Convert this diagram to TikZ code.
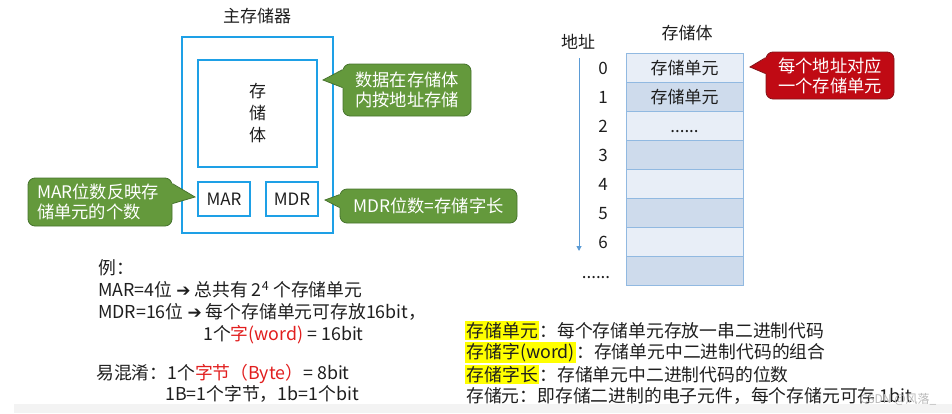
\documentclass[tikz,border=0pt]{standalone}
\usepackage{fontspec}
\setmainfont{Noto Sans CJK SC}
\newfontfamily\symfont{DejaVu Sans}
\usetikzlibrary{arrows.meta,calc}
\definecolor{mblue}{RGB}{30,160,230}
\definecolor{gfill}{RGB}{100,153,60}
\definecolor{gline}{RGB}{70,115,45}
\definecolor{rfill}{RGB}{192,10,20}
\definecolor{rline}{RGB}{130,20,25}
\definecolor{clight}{RGB}{232,238,247}
\definecolor{cdark}{RGB}{206,219,236}
\definecolor{cline}{RGB}{145,185,225}
\definecolor{abl}{RGB}{91,155,213}
\definecolor{txt}{RGB}{30,30,30}
\definecolor{hred}{RGB}{225,30,30}
\definecolor{hyel}{RGB}{255,255,0}
\definecolor{band}{RGB}{243,243,243}
\newcommand\fs{\fontsize{17}{21}\selectfont}
\newcommand\fb{\fontsize{17.8}{21}\selectfont}
\newcommand\arr{{\symfont\fontsize{17}{17}\selectfont ➔}}
\newcommand\hl[1]{{\setlength{\fboxsep}{1.5pt}\colorbox{hyel}{#1}}}
\begin{document}
\begin{tikzpicture}[x=1pt,y=-1pt,
 every node/.style={font=\fs, text=txt},
 lbl/.style={inner sep=0, anchor=west, text height=13pt, text depth=0pt},
 blbl/.style={lbl, font=\fb},
 clbl/.style={inner sep=0, text height=13pt, text depth=0pt},
 bluebox/.style={draw=mblue, line width=2.5pt, inner sep=0},
 gcall/.style={fill=gfill, draw=gline, line width=0.8pt, rounded corners=7pt, text=white, inner sep=0, align=center, font=\fontsize{17.3}{20}\selectfont},
 rcall/.style={gcall, fill=rfill, draw=rline},
 gptr/.style={fill=gfill},
 gptrl/.style={draw=gline, line width=0.8pt},
 rptr/.style={fill=rfill},
 rptrl/.style={draw=rline, line width=0.8pt},
 cell/.style={draw=cline, line width=1pt, minimum width=117pt, minimum height=29pt, inner sep=0, text height=13pt, text depth=0pt},
]
\useasboundingbox (0,0) rectangle (952,413);
\fill[band] (14,404) rectangle (952,413);

% ---------- main memory ----------
\node (title) at (257,16) {主存储器};
\node[bluebox, minimum width=151pt, minimum height=196pt] (mem) at (257.5,135) {};
\node[bluebox, minimum width=119pt, minimum height=107pt, align=center, font=\fontsize{17}{22}\selectfont] (body) at (257.5,113.5) {存\\储\\体};
\node[bluebox, minimum width=52pt, minimum height=34pt] (mar) at (224,199) {MAR};
\node[bluebox, minimum width=52pt, minimum height=34pt] (mdr) at (292,199) {MDR};

% callout A
\node[gcall, minimum width=128pt, minimum height=52pt] (ca) at (407,90) {数据在存储体\\内按地址存储};
\coordinate (tipA) at (323,80);
\fill[gptr] ($(ca.north west)+(1.5,5.5)$) -- (tipA) -- ($(ca.north west)+(1.5,24.5)$) -- cycle;
\draw[gptrl] ($(ca.north west)+(0,6)$) -- (tipA) -- ($(ca.north west)+(0,24)$);

% callout B
\node[gcall, minimum width=144pt, minimum height=48pt, text width=126pt, align=left] (cb) at (100,202) {MAR位数反映存\\储单元的个数};
\coordinate (tipB) at (195,197);
\fill[gptr] ($(cb.north east)+(-1.5,5.5)$) -- (tipB) -- ($(cb.north east)+(-1.5,26.5)$) -- cycle;
\draw[gptrl] ($(cb.north east)+(0,6)$) -- (tipB) -- ($(cb.north east)+(0,26)$);

% callout C
\node[gcall, minimum width=177pt, minimum height=34pt] (cc) at (428.5,206) {MDR位数=存储字长};
\coordinate (tipC) at (325,200);
\fill[gptr] ($(cc.north west)+(1.5,5.5)$) -- (tipC) -- ($(cc.north west)+(1.5,19.5)$) -- cycle;
\draw[gptrl] ($(cc.north west)+(0,6)$) -- (tipC) -- ($(cc.north west)+(0,19)$);

% ---------- example text ----------
\node[blbl] (ex0) at (98,268) {例：};
\node[blbl] (ex1) at (98,290) {MAR=4位 \arr{} 总共有 2\textsuperscript{4} 个存储单元};
\node[blbl] (ex2) at (98,312) {MDR=16位 \arr{} 每个存储单元可存放16bit，};
\node[blbl] (ex3) at (203,334) {1个\textcolor{hred}{字(word)} = 16bit};
\node[blbl] (ex4) at (96,373) {易混淆：1个\textcolor{hred}{字节（Byte）}= 8bit};
\node[blbl] (ex5) at (165,394) {1B=1个字节，1b=1个bit};

% ---------- storage body table ----------
\node (addr) at (578,42) {地址};
\node (sbody) at (687,33) {存储体};
\node[cell, fill=clight] (r0) at (684.5,67.5) {存储单元};
\node[cell, fill=cdark]  (r1) at (684.5,96.5) {存储单元};
\node[cell, fill=clight] (r2) at (684.5,125.5) {......};
\node[cell, fill=cdark]  (r3) at (684.5,154.5) {};
\node[cell, fill=clight] (r4) at (684.5,183.5) {};
\node[cell, fill=cdark]  (r5) at (684.5,212.5) {};
\node[cell, fill=clight] (r6) at (684.5,241.5) {};
\node[cell, fill=cdark]  (r7) at (684.5,270.5) {};

\node[clbl] (a0) at (603,67.5) {0};
\node[clbl] (a1) at (603,96.5) {1};
\node[clbl] (a2) at (603,125.5) {2};
\node[clbl] (a3) at (603,154.5) {3};
\node[clbl] (a4) at (603,183.5) {4};
\node[clbl] (a5) at (603,212.5) {5};
\node[clbl] (a6) at (603,241.5) {6};
\node[clbl] (a7) at (596,272) {......};

\coordinate (arS) at (579,58);
\coordinate (arE) at (579,251);
\draw[abl, line width=1pt, -{Triangle[width=5pt,length=5pt]}] (arS) -- (arE);

% red callout
\node[rcall, minimum width=128pt, minimum height=47pt] (cr) at (830,75.5) {每个地址对应\\一个存储单元};
\coordinate (tipR) at (750,67);
\fill[rptr] ($(cr.north west)+(1.5,5.5)$) -- (tipR) -- ($(cr.north west)+(1.5,22.5)$) -- cycle;
\draw[rptrl] ($(cr.north west)+(0,6)$) -- (tipR) -- ($(cr.north west)+(0,22)$);

% ---------- definitions ----------
\node[blbl] (d1) at (465,331) {\hl{存储单元}：每个存储单元存放一串二进制代码};
\node[blbl] (d2) at (465,352) {\hl{存储字(word)}：存储单元中二进制代码的组合};
\node[blbl] (d3) at (465,375) {\hl{存储字长}：存储单元中二进制代码的位数};
\node[blbl] (d4) at (466,396) {存储元：即存储二进制的电子元件，每个存储元可存 1bit};
\node[lbl, font=\fontsize{12}{12}\selectfont, text=gray!55] (wm) at (860,397) {CSDN @风落\_};
\end{tikzpicture}
\end{document}
